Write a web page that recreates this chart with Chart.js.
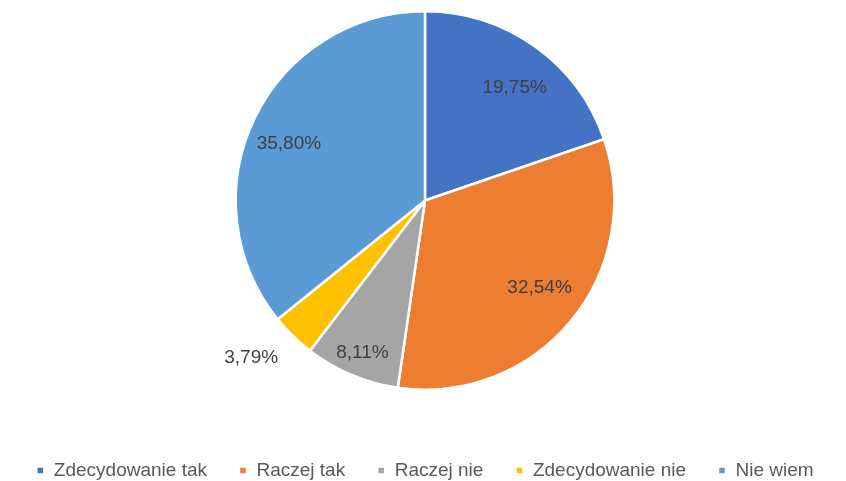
<!DOCTYPE html>
<html>
<head>
<meta charset="utf-8">
<script src="https://cdn.jsdelivr.net/npm/chart.js@4"></script>
<style>
  html, body { margin: 0; padding: 0; background: #fff; }
  #wrap { width: 846px; height: 481px; }
</style>
</head>
<body>
<div id="wrap"><canvas id="pieChart"></canvas></div>
<script>
const categories = ['Zdecydowanie tak', 'Raczej tak', 'Raczej nie', 'Zdecydowanie nie', 'Nie wiem'];
const shares = [19.75, 32.54, 8.11, 3.79, 35.80];
const sliceColors = ['#4472C4', '#ED7D31', '#A5A5A5', '#FFC000', '#5B9BD5'];
// label placement: distance from the centre (share of the radius) and a small turn in degrees
const labelRadius = [0.76, 0.76, 0.87, 1.24, 0.78];
const labelTurn = [3, -2.5, -0.5, 3.5, -2.8];

const FONT = '"Liberation Sans", Arial, sans-serif';

// writes the percentages onto (or next to) the slices
const sliceLabels = {
    id: 'sliceLabels',
    afterDatasetsDraw(chart) {
        const ctx = chart.ctx;
        const meta = chart.getDatasetMeta(0);
        ctx.save();
        ctx.font = '19px ' + FONT;
        ctx.fillStyle = '#404040';
        ctx.textAlign = 'center';
        ctx.textBaseline = 'middle';
        meta.data.forEach((arc, i) => {
            const p = arc.getProps(['x', 'y', 'startAngle', 'endAngle', 'outerRadius'], true);
            const mid = (p.startAngle + p.endAngle) / 2 + labelTurn[i] * Math.PI / 180;
            const r = p.outerRadius * labelRadius[i];
            const text = shares[i].toFixed(2).replace('.', ',') + '%';
            ctx.fillText(text, p.x + Math.cos(mid) * r, p.y + Math.sin(mid) * r);
        });
        ctx.restore();
    }
};

new Chart(document.getElementById('pieChart'), {
    type: 'pie',
    data: {
        labels: categories,
        datasets: [{
            data: shares,
            backgroundColor: sliceColors,
            borderColor: '#ffffff',
            borderWidth: 2.5
        }]
    },
    options: {
        responsive: true,
        maintainAspectRatio: false,
        animation: false,
        layout: {
            padding: { top: 10, bottom: -9, left: 4 }
        },
        plugins: {
            tooltip: { enabled: false },
            legend: {
                position: 'bottom',
                // blank title just opens a gap between the pie and the legend row
                title: {
                    display: true,
                    text: ' ',
                    font: { size: 10 },
                    padding: { top: 13, bottom: 13 }
                },
                labels: {
                    boxWidth: 8,
                    boxHeight: 8,
                    padding: 32,
                    color: '#595959',
                    font: { size: 19, family: FONT }
                }
            }
        }
    },
    plugins: [sliceLabels]
});
</script>
</body>
</html>
